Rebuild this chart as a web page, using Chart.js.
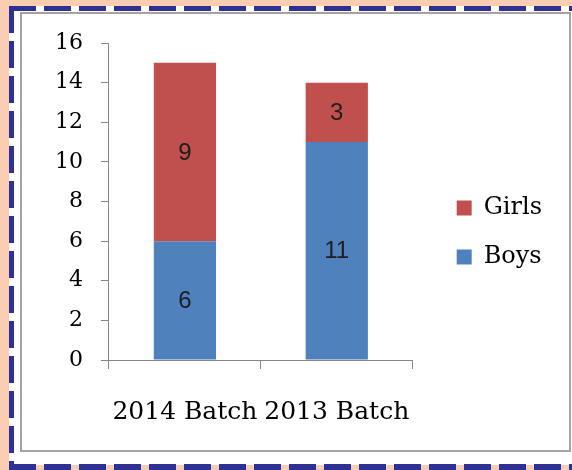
<!DOCTYPE html>
<html>
<head>
<meta charset="utf-8">
<script src="https://cdn.jsdelivr.net/npm/chart.js@4/dist/chart.umd.min.js"></script>
<style>
html,body{margin:0;padding:0;background:#FBCDB3;}
canvas{display:block;}
</style>
</head>
<body>
<canvas id="c" width="572" height="470"></canvas>
<script>
const categories = ["2014 Batch", "2013 Batch"];
const boys = [6, 11];
const girls = [9, 3];
const yMin = 0, yMax = 16, yStep = 2;

const framePlugin = {
  id: 'frame',
  beforeDraw(chart) {
    const ctx = chart.ctx;
    ctx.save();
    ctx.fillStyle = '#FBCDB3';
    ctx.fillRect(0, 0, 572, 470);
    ctx.fillStyle = '#FFFFFF';
    ctx.fillRect(9, 6, 563, 459);
    ctx.strokeStyle = '#2E3192';
    ctx.setLineDash([27, 8]);
    ctx.lineWidth = 5;
    ctx.beginPath(); ctx.moveTo(9, 8.5); ctx.lineTo(572, 8.5); ctx.stroke();
    ctx.beginPath(); ctx.moveTo(11.5, 6); ctx.lineTo(11.5, 470); ctx.stroke();
    ctx.lineWidth = 6;
    ctx.beginPath(); ctx.moveTo(9, 467); ctx.lineTo(572, 467); ctx.stroke();
    ctx.setLineDash([]);
    ctx.strokeStyle = '#A3A3A3';
    ctx.lineWidth = 2;
    ctx.strokeRect(21, 13, 549, 438);
    ctx.restore();
  }
};

// leaves a gap between the plot area and the legend
const legendShift = {
  id: 'legendShift',
  afterLayout(chart) {
    const lg = chart.legend;
    if (lg) { lg.left += 19; lg.right += 19; }
  }
};

const labelPlugin = {
  id: 'segLabels',
  afterDatasetsDraw(chart) {
    const ctx = chart.ctx;
    ctx.save();
    ctx.font = '24px "Liberation Sans", Arial, sans-serif';
    ctx.fillStyle = '#1E1E1E';
    ctx.textAlign = 'center';
    ctx.textBaseline = 'middle';
    chart.data.datasets.forEach((ds, i) => {
      const meta = chart.getDatasetMeta(i);
      meta.data.forEach((el, j) => {
        const y = (el.y + el.base) / 2;
        ctx.fillText(String(ds.data[j]), el.x, y + 1);
      });
    });
    ctx.restore();
  }
};

new Chart(document.getElementById('c'), {
  type: 'bar',
  data: {
    labels: categories,
    datasets: [
      { label: 'Boys', data: boys, backgroundColor: '#4F81BD', borderWidth: 0 },
      { label: 'Girls', data: girls, backgroundColor: '#C0504D', borderWidth: 0 }
    ]
  },
  options: {
    responsive: false,
    animation: false,
    devicePixelRatio: 1,
    layout: { padding: { left: 37, top: 10, bottom: 15, right: 39 } },
    datasets: { bar: { categoryPercentage: 1.0, barPercentage: 0.41 } },
    plugins: {
      legend: {
        position: 'right',
        reverse: true,
        labels: {
          boxWidth: 15, boxHeight: 15, padding: 25,
          color: '#000',
          font: { family: '"DejaVu Serif", serif', size: 24 }
        }
      },
      tooltip: { enabled: false }
    },
    scales: {
      x: {
        stacked: true,
        border: { display: true, color: '#888888', width: 1 },
        grid: { display: true, drawOnChartArea: false, drawTicks: true, tickLength: 9, color: '#888888' },
        ticks: { color: '#000', padding: 28, font: { family: '"DejaVu Serif", serif', size: 25 } }
      },
      y: {
        stacked: true,
        min: yMin, max: yMax,
        border: { display: true, color: '#888888', width: 1 },
        grid: { display: true, drawOnChartArea: false, drawTicks: true, tickLength: 8, color: '#888888' },
        ticks: { stepSize: yStep, color: '#000', padding: 18, font: { family: '"DejaVu Serif", serif', size: 22 } },
        afterFit(scale) { scale.paddingTop = 43; }
      }
    }
  },
  plugins: [framePlugin, legendShift, labelPlugin]
});
</script>
</body>
</html>
